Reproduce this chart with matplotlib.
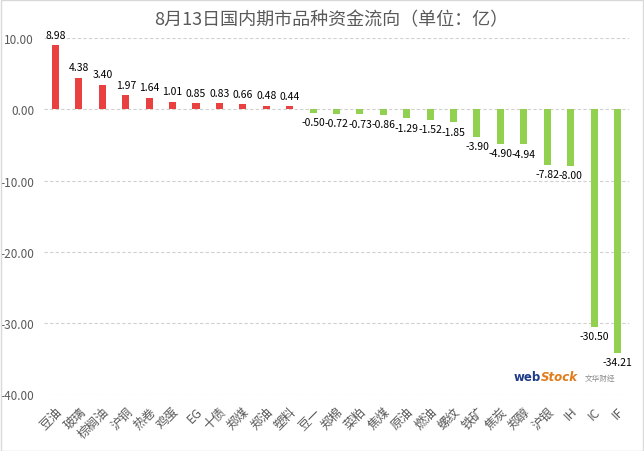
import matplotlib
matplotlib.use("Agg")
import matplotlib.pyplot as plt
from matplotlib.patches import Rectangle

plt.rcParams['font.family'] = ['Noto Sans CJK SC', 'DejaVu Sans']

names = ['豆油', '玻璃', '棕榈油', '沪铜', '热卷', '鸡蛋', 'EG', '十债', '郑煤', '郑油',
         '塑料', '豆一', '郑棉', '菜粕', '焦煤', '原油', '燃油', '螺纹', '铁矿', '焦炭',
         '郑醇', '沪银', 'IH', 'IC', 'IF']
flows = [8.98, 4.38, 3.40, 1.97, 1.64, 1.01, 0.85, 0.83, 0.66, 0.48,
         0.44, -0.50, -0.72, -0.73, -0.86, -1.29, -1.52, -1.85, -3.90, -4.90,
         -4.94, -7.82, -8.00, -30.50, -34.21]
yticks = [10, 0, -10, -20, -30, -40]

red = '#E8413F'
green = '#92D050'
grey = '#595959'

fig = plt.figure(figsize=(6.44, 4.52), dpi=100)
ax = fig.add_axes([0.068, 0.125, 0.909, 0.789])

x = list(range(len(names)))
colors = [red if v > 0 else green for v in flows]
ax.bar(x, flows, width=0.3, color=colors, zorder=3)

for i, v in enumerate(flows):
    if v > 0:
        ax.annotate('%.2f' % v, (i, v), xytext=(0, 4), textcoords='offset points',
                    ha='center', va='bottom', fontsize=7.5, color='black')
    else:
        ax.annotate('%.2f' % v, (i, v), xytext=(0, -3), textcoords='offset points',
                    ha='center', va='top', fontsize=7.5, color='black')

ax.set_xlim(-0.5, len(names) - 0.5)
ax.set_ylim(-40, 10)
ax.set_yticks(yticks)
ax.set_yticklabels(['%.2f' % t for t in yticks], fontsize=8.5, color=grey)
ax.set_xticks(x)
ax.set_xticklabels(names, rotation=45, ha='right', rotation_mode='anchor',
                   fontsize=9, color=grey)
ax.tick_params(axis='both', length=0)
ax.tick_params(axis='y', pad=7)
ax.tick_params(axis='x', pad=7)
ax.grid(axis='y', color='#D0D0D0', linestyle=(0, (3, 2)), linewidth=0.8, zorder=0)
for sp in ax.spines.values():
    sp.set_visible(False)

fig.text(0.515, 0.955, '8月13日国内期市品种资金流向（单位：亿）', ha='center', va='center',
         fontsize=13, color=grey)

# logo
fig.text(0.84, 0.164, 'web', ha='right', va='center', fontsize=8.5, color='#1F3C88',
         fontweight='bold', family=['DejaVu Sans'])
fig.text(0.84, 0.164, 'Stock', ha='left', va='center', fontsize=8.5, color='#E07B18',
         fontweight='bold', style='italic', family=['DejaVu Sans'])
fig.text(0.908, 0.162, '文华财经', ha='left', va='center', fontsize=5.5, color='#8C8C8C')

fig.patches.append(Rectangle((0.001, 0.001), 0.997, 0.997, transform=fig.transFigure,
                             fill=False, edgecolor='#D9D9D9', linewidth=1))

fig.savefig('out.png', dpi=100)
